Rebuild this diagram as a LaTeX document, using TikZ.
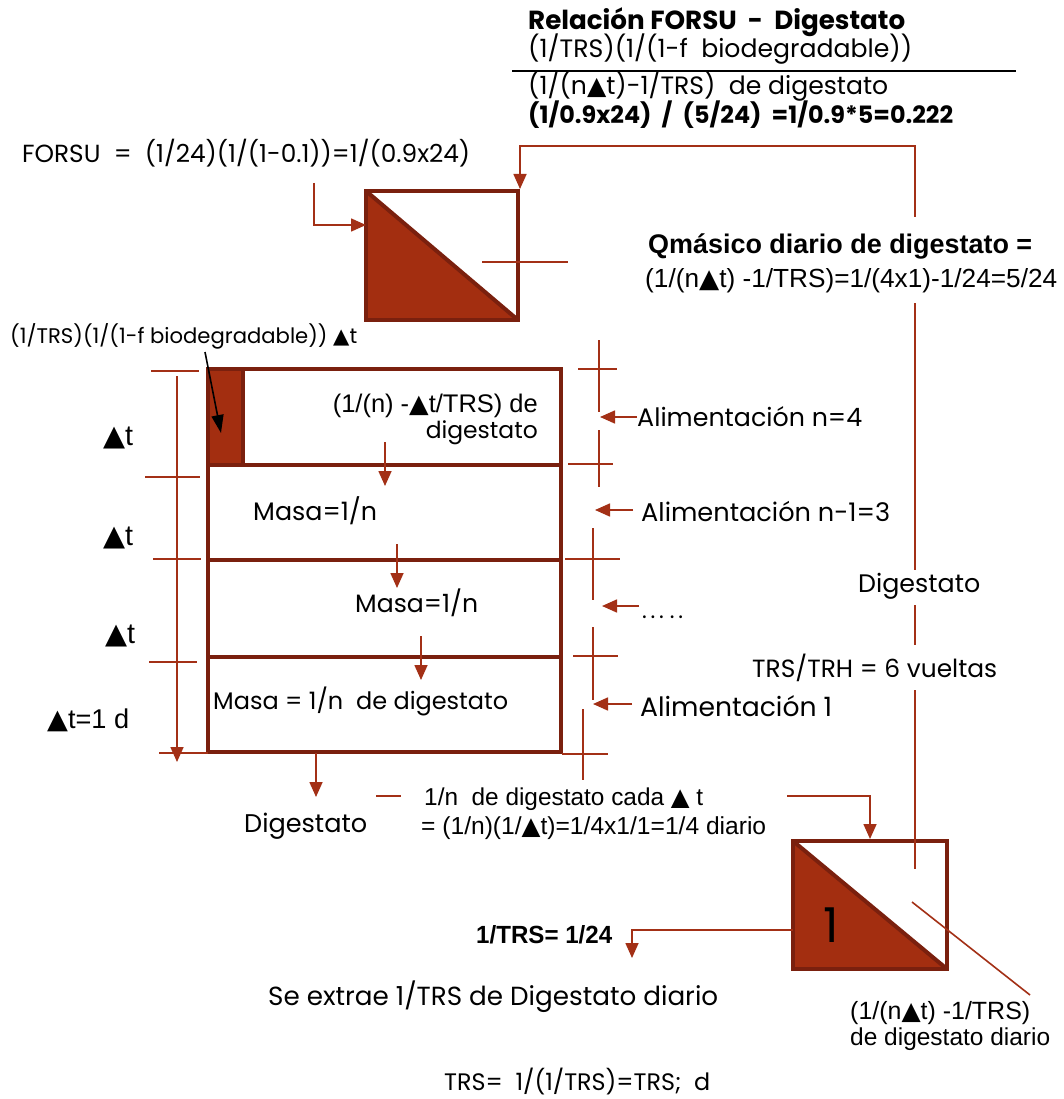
\documentclass[tikz,border=0pt]{standalone}
\usepackage{fontspec}
\usepackage{graphicx}
\setmainfont{Poppins}
\newfontfamily\arialfont{Liberation Sans}
\newfontfamily\symfont{DejaVu Sans}
\usetikzlibrary{arrows.meta}
\definecolor{rust}{RGB}{163,46,16}
\definecolor{rim}{RGB}{122,32,14}
\definecolor{wire}{RGB}{163,48,22}
\newcommand{\tri}{{\symfont ▲}}
% text scaled to a given printed width (in pt)
\newcommand{\fitw}[2]{\resizebox{#1pt}{!}{#2}}

\begin{document}
\begin{tikzpicture}[x=1pt,y=-1pt,
  wire/.style={draw=wire,line width=1.6pt},
  flow/.style={wire,-{Triangle[length=15pt,width=13pt]}},
  unit/.style={draw=rim,line width=4pt,inner sep=0pt,
    path picture={
      \fill[rust] (path picture bounding box.north west) -- (path picture bounding box.south west)
                  -- (path picture bounding box.south east) -- cycle;
      \draw[rim,line width=4pt] (path picture bounding box.north west) -- (path picture bounding box.south east);}},
  row/.style={draw=rim,line width=4pt,minimum width=353pt,inner sep=0pt},
  gtxt/.style={anchor=base west,inner sep=0pt,font=\fontsize{20}{24}\selectfont},
  atxt/.style={anchor=base west,inner sep=0pt,font=\arialfont\fontsize{20}{24}\selectfont},
]
\useasboundingbox[fill=white] (0,0) rectangle (1063,1099);

% ---------- header: FORSU / digestate ratio ----------
\node[gtxt,font=\fontsize{20}{24}\selectfont\bfseries] (rel) at (528,30) {\fitw{377}{Relación FORSU\ \ -\ \ Digestato}};
\node[gtxt] (num) at (528,58) {\fitw{384}{(1/TRS)(1/(1-f\ \ biodegradable))}};
\coordinate (barL) at (512,71);
\coordinate (barR) at (1016,71);
\draw[line width=1.4pt] (barL) -- (barR);
\node[gtxt] (den) at (528,95) {\fitw{360}{(1/(n\tri t)-1/TRS)\ \ de digestato}};
\node[gtxt,font=\fontsize{20}{24}\selectfont\bfseries] (val) at (528,124) {\fitw{425}{(1/0.9x24)\ \ /\ \ (5/24)\ \ =1/0.9*5=0.222}};

\node[gtxt] (forsu) at (22,163) {\fitw{448}{FORSU\ \ =\ \ (1/24)(1/(1-0.1))=1/(0.9x24)}};

% ---------- mixing unit (top) ----------
\node[unit,minimum width=152pt,minimum height=129pt] (mix) at (442,255.5) {};
\coordinate (f0) at (314,183);
\coordinate (f1) at (366,225);
\draw[flow] (f0) |- (f1);
\coordinate (s0) at (482,262);
\coordinate (s1) at (568,262);
\draw[wire] (s0) -- (s1);

% ---------- daily digestate flow text ----------
\node[atxt,font=\arialfont\fontsize{20}{24}\selectfont\bfseries] (qm) at (648,254) {\fitw{384}{Qmásico diario de digestato =}};
\node[atxt] (qmv) at (645,287) {\fitw{412}{(1/(n\tri t) -1/TRS)=1/(4x1)-1/24=5/24}};

% ---------- digester stack ----------
\node[gtxt] (feedlbl) at (10,343) {\fitw{347}{(1/TRS)(1/(1-f biodegradable)) \tri t}};

\node[row,minimum height=96pt] (r1) at (384.5,417) {};
\node[row,minimum height=95pt] (r2) at (384.5,512.5) {};
\node[row,minimum height=97pt] (r3) at (384.5,608.5) {};
\node[row,minimum height=95pt] (r4) at (384.5,704.5) {};
\node[draw=rim,fill=rust,line width=4pt,minimum width=35pt,minimum height=96pt,inner sep=0pt] (seed) at (225.5,417) {};

\coordinate (fa) at (205,352);
\coordinate (fb) at (221,433);
\draw[line width=1.6pt,-{Triangle[length=18pt,width=12pt]}] (fa) -- (fb);

\node[atxt,anchor=base east] (r1a) at (538,412) {\fitw{205}{(1/(n) -\tri t/TRS) de}};
\node[gtxt,anchor=base east] (r1b) at (538,438) {\fitw{112}{digestato}};
\node[gtxt] (m2) at (253,520) {\fitw{124}{Masa=1/n}};
\node[gtxt] (m3) at (355,612) {\fitw{123}{Masa=1/n}};
\node[gtxt] (m4) at (213,709) {\fitw{295}{Masa = 1/n\ \ de digestato}};

\coordinate (d1a) at (385,442); \coordinate (d1b) at (385,486);
\coordinate (d2a) at (397,544); \coordinate (d2b) at (397,588);
\coordinate (d3a) at (421,636); \coordinate (d3b) at (421,680);
\draw[flow] (d1a) -- (d1b);
\draw[flow] (d2a) -- (d2b);
\draw[flow] (d3a) -- (d3b);

% time scale on the left
\coordinate (ta) at (177,376);
\coordinate (tb) at (177,762);
\draw[flow] (ta) -- (tb);
\draw[wire] (151,371) -- (199,371);
\draw[wire] (145,477) -- (200,477);
\draw[wire] (153,559) -- (201,559);
\draw[wire] (149,662) -- (197,662);
\draw[wire] (159,753) -- (208,753);
\node[atxt] (dt1) at (103,445) {\fitw{30}{\tri t}};
\node[atxt] (dt2) at (103,545) {\fitw{30}{\tri t}};
\node[atxt] (dt3) at (105,643) {\fitw{30}{\tri t}};
\node[atxt] (dt4) at (47,728) {\fitw{82}{\tri t=1 d}};

% feed marks on the right
\draw[wire] (599,340) -- (599,412);
\draw[wire] (599,430) -- (599,487);
\draw[wire] (578,369) -- (617,369);
\draw[wire] (568,464) -- (613,464);
\draw[wire] (593,528) -- (593,600);
\draw[wire] (565,559) -- (620,559);
\draw[wire] (593,627) -- (593,700);
\draw[wire] (573,656) -- (618,656);
\draw[wire] (583,709) -- (583,780);
\draw[wire] (562,754) -- (608,754);

\node[gtxt] (al4) at (637,426) {\fitw{225}{Alimentación n=4}};
\node[gtxt] (al3) at (641,521) {\fitw{249}{Alimentación n-1=3}};
\node[gtxt] (aldots) at (642,618) {\fitw{41}{.\,.\,.\ .\,.}};
\node[gtxt] (al1) at (640,716) {\fitw{192}{Alimentación 1}};
\coordinate (a4) at (637,417); \coordinate (a4t) at (600,417);
\coordinate (a3) at (633,510); \coordinate (a3t) at (595,510);
\coordinate (a2) at (639,606); \coordinate (a2t) at (602,606);
\coordinate (a1) at (632,704); \coordinate (a1t) at (593,704);
\draw[flow] (a4) -- (a4t);
\draw[flow] (a3) -- (a3t);
\draw[flow] (a2) -- (a2t);
\draw[flow] (a1) -- (a1t);

% ---------- digestate outflow ----------
\coordinate (o0) at (316,753);
\coordinate (o1) at (316,797);
\draw[flow] (o0) -- (o1);
\node[gtxt] (dig) at (244,832) {\fitw{123}{Digestato}};
\draw[wire] (376,796) -- (401,796);
\node[atxt] (per1) at (424,805) {\fitw{279}{1/n\ \ de digestato cada \tri\ t}};
\node[atxt] (per2) at (421,834) {\fitw{345}{= (1/n)(1/\tri t)=1/4x1/1=1/4 diario}};

% ---------- separation unit (bottom) ----------
\node[unit,minimum width=154pt,minimum height=128pt] (out) at (870,905) {};
\node[inner sep=0pt,anchor=base,font=\fontsize{48}{50}\selectfont] (one) at (831,942) {1};
\coordinate (p0) at (787,796);
\draw[flow] (p0) -| ([xshift=79pt]out.north west);

\coordinate (q0) at (793,930);
\coordinate (q1) at (632,958);
\draw[flow] (q0) -| (q1);
\node[atxt,font=\arialfont\fontsize{20}{24}\selectfont\bfseries] (trs) at (476,943) {\resizebox{136pt}{18pt}{1/TRS= 1/24}};
\node[gtxt] (ext) at (268,1005) {\fitw{450}{Se extrae 1/TRS de Digestato diario}};

\coordinate (g0) at (912,902);
\coordinate (g1) at (1030,995);
\draw[wire] (g0) -- (g1);
\node[atxt] (rest1) at (850,1019) {\fitw{180}{(1/(n\tri t) -1/TRS)}};
\node[atxt] (rest2) at (850,1045) {\fitw{200}{de digestato diario}};
\node[gtxt] (trsd) at (444,1090) {\fitw{266}{TRS=\ \ 1/(1/TRS)=TRS;\ \ d}};

% ---------- recirculation line ----------
\coordinate (v0) at (915,146);
\coordinate (v1) at (915,217);
\coordinate (v2) at (915,303);
\coordinate (v3) at (915,570);
\coordinate (v4) at (915,605);
\coordinate (v5) at (915,645);
\coordinate (v6) at (915,690);
\coordinate (v7) at (915,869);
\draw[flow] (v1) -- (v0) -| (mix.north east);
\draw[wire] (v2) -- (v3);
\draw[wire] (v4) -- (v5);
\draw[wire] (v6) -- (v7);
\node[gtxt] (digr) at (858,592) {\fitw{122}{Digestato}};
\node[gtxt] (vuel) at (752,677) {\fitw{245}{TRS/TRH = 6 vueltas}};

\end{tikzpicture}
\end{document}
